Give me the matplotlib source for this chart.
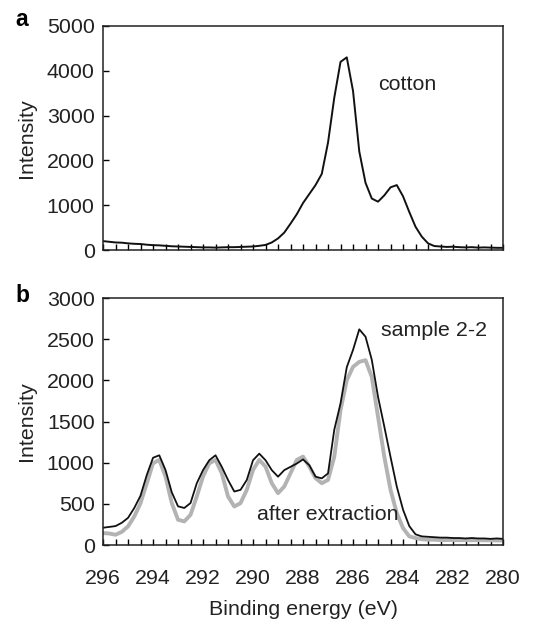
import numpy as np
import matplotlib
matplotlib.use("Agg")
import matplotlib.pyplot as plt
from matplotlib.ticker import MultipleLocator

plt.rcParams['font.family'] = ['Liberation Sans', 'DejaVu Sans']

# binding energy grid (eV), 296 -> 280 in 0.25 steps
energia = np.linspace(296, 280, 65)

# painel a - cotton
cotton = [200, 185, 170, 165, 150, 140, 135, 120, 110, 105, 95, 85, 80,
          75, 70, 65, 60, 60, 55, 60, 65, 65, 70, 75, 80, 95, 115, 170,
          260, 390, 590, 800, 1050, 1250, 1450, 1700, 2400, 3400, 4200,
          4300, 3550, 2200, 1500, 1150, 1080, 1220, 1400, 1450, 1200,
          850, 520, 300, 150, 90, 80, 70, 75, 65, 60, 65, 55, 60, 55, 50, 50]

# painel b - sample 2-2 e after extraction
amostra = [210, 220, 230, 270, 330, 450, 600, 850, 1060, 1090, 910, 640,
           470, 450, 510, 750, 910, 1030, 1090, 950, 790, 650, 670, 790,
           1030, 1110, 1030, 910, 830, 910, 950, 990, 1040, 970, 830, 810,
           870, 1400, 1720, 2160, 2370, 2620, 2530, 2250, 1800, 1440, 1070,
           710, 430, 230, 130, 105, 100, 95, 90, 90, 85, 85, 80, 85, 80,
           80, 75, 80, 75]

extraida = [145, 140, 125, 160, 226, 347, 509, 751, 993, 1034, 832, 509,
            307, 287, 367, 590, 832, 993, 1034, 872, 590, 468, 509, 670,
            912, 1034, 953, 751, 630, 711, 872, 1034, 1074, 953, 812, 751,
            791, 1074, 1639, 2002, 2164, 2225, 2245, 2042, 1558, 1074, 670,
            388, 206, 105, 85, 70, 65, 65, 60, 60, 62, 58, 60, 58, 60, 57,
            58, 56, 55]

xticks = [296, 294, 292, 290, 288, 286, 284, 282, 280]

fs = 15.4
cor_texto = '#222222'

fig = plt.figure(figsize=(5.38, 6.19), dpi=100)
ax1 = fig.add_axes([0.1915, 0.596, 0.7435, 0.362])
ax2 = fig.add_axes([0.1915, 0.1195, 0.7435, 0.399])

ax1.plot(energia, cotton, color='#111111', lw=1.4)
ax2.plot(energia, extraida, color='#b3b3b3', lw=2.8)
ax2.plot(energia, amostra, color='#111111', lw=1.3)

for ax in (ax1, ax2):
    ax.set_xlim(296, 280)
    ax.xaxis.set_major_locator(MultipleLocator(2))
    ax.xaxis.set_minor_locator(MultipleLocator(0.5))
    ax.tick_params(axis='both', which='both', direction='in', top=False,
                   right=False, labelsize=fs, labelcolor=cor_texto,
                   width=1.0, length=4)
    ax.tick_params(axis='y', pad=6)
    ax.tick_params(axis='x', pad=17)
    for s in ax.spines.values():
        s.set_linewidth(1.1)
        s.set_color('#222222')
    ax.set_ylabel('Intensity', fontsize=fs, color=cor_texto, labelpad=8)

ax1.set_ylim(0, 5000)
ax1.set_yticks([0, 1000, 2000, 3000, 4000, 5000])
ax1.tick_params(axis='x', which='both', labelbottom=False)

ax2.set_ylim(0, 3000)
ax2.set_yticks([0, 500, 1000, 1500, 2000, 2500, 3000])
ax2.set_xticks(xticks)
ax2.set_xlabel('Binding energy (eV)', fontsize=fs, color=cor_texto, labelpad=9)

ax1.text(285.0, 3700, 'cotton', fontsize=fs, color=cor_texto, va='center')
ax2.text(284.9, 2610, 'sample 2-2', fontsize=fs, color=cor_texto, va='center')
ax2.text(289.85, 370, 'after extraction', fontsize=fs, color=cor_texto, va='center')

fig.text(0.041, 0.969, 'a', fontsize=16.5, fontweight='bold', ha='center', va='center')
fig.text(0.041, 0.522, 'b', fontsize=16.5, fontweight='bold', ha='center', va='center')

fig.savefig('out.png', dpi=100)
